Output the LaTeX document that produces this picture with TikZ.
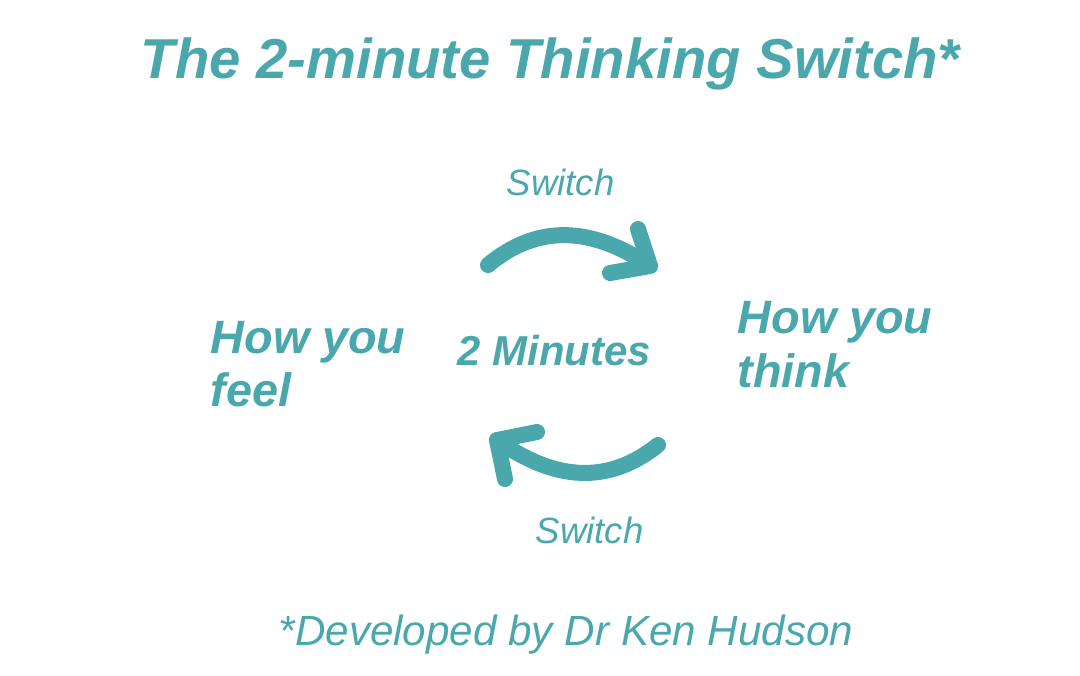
\documentclass[tikz,border=0pt]{standalone}
\usepackage{fontspec}
\setmainfont{Liberation Sans}
\definecolor{teal1}{HTML}{4AA8AD}
\begin{document}
\begin{tikzpicture}[x=0.01cm,y=-0.01cm,
  txt/.style={inner sep=0pt,anchor=base west,text=teal1},
  big/.style={txt,font=\fontsize{13.3}{18}\selectfont\bfseries\itshape,align=left},
  sw/.style={txt,font=\fontsize{10.4}{12}\selectfont\itshape},
  arr/.style={draw=teal1,line width=0.16cm,line cap=round,line join=round}]
\useasboundingbox (0,0) rectangle (1080,675);
\node[txt,font=\fontsize{16}{20}\selectfont\bfseries\itshape] (title) at (140,78) {The 2-minute Thinking Switch*};
\node[sw] (sw1) at (506,195) {Switch};
\node[sw] (sw2) at (535,543) {Switch};
\node[big] (feel1) at (210,353) {How you};
\node[big] (feel2) at (210,406) {feel};
\node[big] (think1) at (737,333) {How you};
\node[big] (think2) at (737,387) {think};
\node[txt,font=\fontsize{11.9}{14}\selectfont\bfseries\itshape] (mid) at (457,365) {2 Minutes};
\node[txt,font=\fontsize{12}{14}\selectfont\itshape] (foot) at (278,645) {*Developed by Dr Ken Hudson};
% top arrow
\coordinate (a1s) at (488,265);
\coordinate (a1t) at (650,266);
\coordinate (a1u) at (638,229);
\coordinate (a1l) at (610,273);
\draw[arr] (a1s) .. controls (536,225) and (590,225) .. (a1t);
\draw[arr] (a1u) -- (a1t) -- (a1l);
% bottom arrow
\coordinate (a2s) at (658,445);
\coordinate (a2t) at (497,440);
\coordinate (a2u) at (537,432);
\coordinate (a2d) at (505,479);
\draw[arr] (a2s) .. controls (609,484) and (556,482) .. (a2t);
\draw[arr] (a2u) -- (a2t) -- (a2d);
\end{tikzpicture}
\end{document}
